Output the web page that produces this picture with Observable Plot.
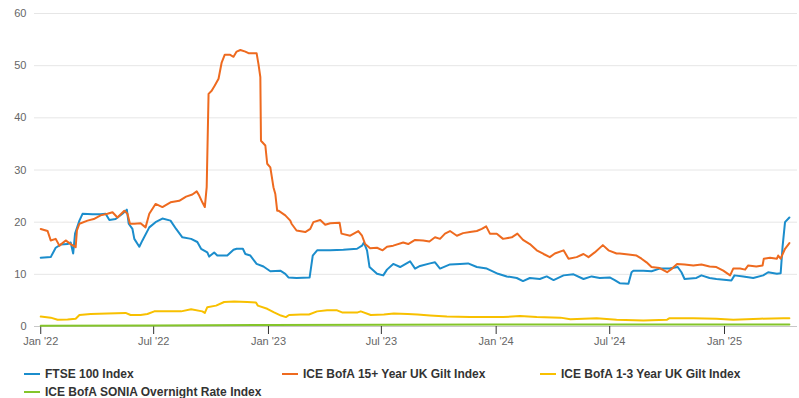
<!DOCTYPE html>
<html><head><meta charset="utf-8">
<script src="https://cdn.jsdelivr.net/npm/d3@7"></script>
<script src="https://cdn.jsdelivr.net/npm/@observablehq/plot@0.6"></script>
<style>
body{margin:0;background:#fff;font-family:"Liberation Sans",Arial,sans-serif;}
#legend{position:relative;height:43px;width:799px;}
.item{position:absolute;display:flex;align-items:center;font-size:12px;font-weight:bold;color:#333;line-height:14px;white-space:nowrap;}
.sw{width:16px;height:2px;margin-right:5px;}
</style></head><body><div id="chart"></div><div id="legend"></div>
<script>
const seriesNames = ["FTSE 100 Index","ICE BofA 15+ Year UK Gilt Index","ICE BofA 1-3 Year UK Gilt Index","ICE BofA SONIA Overnight Rate Index"];
const seriesColors = ["#1b8dcc","#ee6a1f","#f8c000","#84c52a"];
const yTicks = [0,10,20,30,40,50,60];
const xTickDates = ["2022-01-01","2022-07-01","2023-01-01","2023-07-01","2024-01-01","2024-07-01","2025-01-01"];

const ftse = [["2022-01-01",13.2],["2022-01-17",13.3],["2022-01-25",15.1],["2022-02-02",15.7],["2022-02-13",15.8],["2022-02-18",16.1],["2022-02-22",14.0],["2022-02-25",17.8],["2022-03-04",20.3],["2022-03-09",21.6],["2022-03-25",21.5],["2022-04-07",21.5],["2022-04-15",21.6],["2022-04-21",20.4],["2022-05-01",20.6],["2022-05-12",21.6],["2022-05-19",22.4],["2022-05-22",19.7],["2022-05-28",18.7],["2022-05-31",16.8],["2022-06-08",15.3],["2022-06-13",16.5],["2022-06-24",19.0],["2022-07-04",20.0],["2022-07-15",20.7],["2022-07-28",20.3],["2022-08-06",18.7],["2022-08-16",17.1],["2022-08-30",16.8],["2022-09-09",16.2],["2022-09-15",14.9],["2022-09-25",14.2],["2022-09-28",13.4],["2022-10-06",14.2],["2022-10-11",13.6],["2022-10-27",13.6],["2022-11-06",14.7],["2022-11-11",14.9],["2022-11-21",14.9],["2022-11-25",13.9],["2022-12-03",13.6],["2022-12-13",12.0],["2022-12-24",11.5],["2023-01-04",10.6],["2023-01-20",10.7],["2023-01-28",10.1],["2023-02-02",9.4],["2023-02-15",9.3],["2023-03-08",9.4],["2023-03-13",13.6],["2023-03-20",14.6],["2023-04-10",14.6],["2023-05-01",14.7],["2023-05-23",14.9],["2023-05-31",15.5],["2023-06-03",16.1],["2023-06-08",14.6],["2023-06-12",11.4],["2023-06-24",10.1],["2023-07-04",9.8],["2023-07-10",10.9],["2023-07-20",12.0],["2023-07-31",11.4],["2023-08-16",12.5],["2023-08-24",11.1],["2023-09-01",11.6],["2023-09-17",12.1],["2023-09-25",12.3],["2023-10-03",11.1],["2023-10-19",11.9],["2023-11-04",12.0],["2023-11-17",12.1],["2023-12-01",11.4],["2023-12-17",11.1],["2024-01-04",10.1],["2024-01-18",9.6],["2024-02-03",9.3],["2024-02-13",8.7],["2024-02-24",9.3],["2024-03-11",9.1],["2024-03-22",9.6],["2024-04-02",8.9],["2024-04-18",9.8],["2024-05-04",10.0],["2024-05-20",9.1],["2024-06-02",9.6],["2024-06-15",9.3],["2024-07-01",9.4],["2024-07-09",8.9],["2024-07-17",8.3],["2024-07-31",8.2],["2024-08-05",10.4],["2024-08-08",10.7],["2024-08-24",10.7],["2024-09-06",10.6],["2024-09-19",11.1],["2024-10-05",11.1],["2024-10-18",11.4],["2024-10-24",10.4],["2024-10-29",9.1],["2024-11-17",9.3],["2024-11-25",9.8],["2024-12-08",9.3],["2024-12-19",9.1],["2025-01-12",8.8],["2025-01-17",9.8],["2025-01-31",9.6],["2025-02-16",9.3],["2025-03-04",9.8],["2025-03-12",10.4],["2025-03-26",10.1],["2025-04-01",10.2],["2025-04-04",15.2],["2025-04-08",20.0],["2025-04-15",20.9]];

const gilt15 = [["2022-01-01",18.7],["2022-01-12",18.3],["2022-01-17",16.5],["2022-01-25",16.8],["2022-01-31",15.5],["2022-02-10",16.5],["2022-02-18",15.8],["2022-02-26",15.2],["2022-02-28",18.4],["2022-03-04",19.7],["2022-03-17",20.3],["2022-03-27",20.6],["2022-04-07",21.3],["2022-04-18",21.6],["2022-04-26",21.9],["2022-05-04",20.9],["2022-05-15",22.2],["2022-05-20",21.6],["2022-05-24",19.7],["2022-05-31",19.7],["2022-06-10",19.8],["2022-06-18",19.0],["2022-06-24",21.6],["2022-07-04",23.5],["2022-07-15",22.9],["2022-07-28",23.8],["2022-08-11",24.1],["2022-08-22",24.9],["2022-09-01",25.3],["2022-09-08",25.9],["2022-09-12",25.1],["2022-09-17",23.8],["2022-09-21",22.9],["2022-09-24",26.7],["2022-09-27",44.6],["2022-10-02",45.2],["2022-10-07",46.2],["2022-10-13",47.5],["2022-10-18",50.6],["2022-10-23",52.1],["2022-10-31",52.1],["2022-11-06",51.7],["2022-11-11",52.7],["2022-11-17",53.0],["2022-11-25",52.7],["2022-11-30",52.4],["2022-12-13",52.4],["2022-12-16",50.3],["2022-12-19",47.8],["2022-12-20",35.6],["2022-12-27",34.7],["2022-12-30",31.2],["2023-01-04",30.5],["2023-01-09",26.7],["2023-01-12",25.4],["2023-01-15",22.2],["2023-01-17",22.2],["2023-01-28",21.3],["2023-02-05",20.3],["2023-02-07",19.7],["2023-02-15",18.4],["2023-03-01",18.1],["2023-03-09",18.7],["2023-03-14",20.0],["2023-03-25",20.4],["2023-04-02",19.5],["2023-04-10",19.8],["2023-04-25",19.9],["2023-04-28",17.8],["2023-05-12",17.4],["2023-05-25",18.3],["2023-05-31",17.4],["2023-06-05",15.8],["2023-06-13",15.0],["2023-06-24",15.1],["2023-07-03",14.6],["2023-07-10",15.3],["2023-07-20",15.5],["2023-08-05",16.1],["2023-08-13",15.8],["2023-08-24",16.6],["2023-09-06",16.5],["2023-09-16",16.3],["2023-09-25",17.1],["2023-10-03",16.8],["2023-10-11",17.8],["2023-10-19",18.3],["2023-10-30",17.4],["2023-11-09",17.9],["2023-11-20",18.1],["2023-12-01",18.3],["2023-12-09",18.7],["2023-12-16",19.2],["2023-12-22",17.8],["2024-01-02",17.8],["2024-01-12",16.8],["2024-01-26",17.1],["2024-02-04",17.8],["2024-02-13",16.6],["2024-02-24",15.8],["2024-03-06",14.6],["2024-03-17",13.9],["2024-03-27",13.3],["2024-04-04",14.0],["2024-04-18",14.6],["2024-04-26",13.0],["2024-05-09",13.3],["2024-05-20",13.9],["2024-05-28",13.3],["2024-06-07",14.2],["2024-06-20",15.6],["2024-06-29",14.6],["2024-07-12",14.0],["2024-07-17",14.0],["2024-07-31",13.8],["2024-08-13",13.6],["2024-08-21",13.0],["2024-08-29",12.3],["2024-09-06",11.4],["2024-09-19",11.2],["2024-10-01",10.4],["2024-10-09",11.1],["2024-10-17",12.0],["2024-10-29",11.9],["2024-11-12",11.7],["2024-11-25",11.9],["2024-12-08",11.5],["2024-12-19",11.4],["2024-12-30",10.7],["2025-01-10",9.8],["2025-01-15",11.1],["2025-01-26",11.1],["2025-02-03",10.9],["2025-02-08",11.7],["2025-02-21",11.5],["2025-03-03",11.7],["2025-03-05",13.0],["2025-03-15",13.2],["2025-03-26",13.0],["2025-03-28",13.6],["2025-04-01",13.0],["2025-04-08",14.9],["2025-04-15",16.0]];

const gilt13 = [["2022-01-01",1.9],["2022-01-17",1.7],["2022-01-28",1.3],["2022-02-13",1.35],["2022-02-26",1.5],["2022-03-04",2.2],["2022-03-22",2.4],["2022-04-18",2.5],["2022-05-17",2.6],["2022-05-25",2.2],["2022-06-10",2.2],["2022-06-21",2.4],["2022-07-02",2.9],["2022-07-23",2.9],["2022-08-14",2.9],["2022-08-30",3.3],["2022-09-17",2.9],["2022-09-21",2.6],["2022-09-25",3.7],["2022-10-09",4.0],["2022-10-22",4.7],["2022-11-07",4.8],["2022-11-28",4.7],["2022-12-12",4.6],["2022-12-15",4.0],["2022-12-30",3.4],["2023-01-10",2.7],["2023-01-21",2.1],["2023-01-29",1.8],["2023-02-03",2.2],["2023-02-22",2.3],["2023-03-07",2.3],["2023-03-20",2.9],["2023-04-05",3.1],["2023-04-21",3.1],["2023-04-29",2.7],["2023-05-24",2.7],["2023-05-29",2.9],["2023-06-14",2.2],["2023-07-05",2.3],["2023-07-21",2.5],["2023-08-12",2.4],["2023-08-28",2.3],["2023-09-17",2.1],["2023-10-14",1.9],["2023-11-20",1.8],["2024-01-12",1.8],["2024-02-08",2.0],["2024-03-06",1.8],["2024-04-13",1.7],["2024-04-29",1.4],["2024-06-10",1.6],["2024-07-12",1.3],["2024-08-24",1.15],["2024-10-01",1.3],["2024-10-05",1.6],["2024-11-12",1.6],["2024-12-19",1.5],["2025-01-15",1.3],["2025-02-27",1.5],["2025-04-05",1.6],["2025-04-15",1.6]];

const sonia = [["2022-01-01",0.15],["2022-07-01",0.2],["2023-01-01",0.3],["2023-07-01",0.35],["2024-01-01",0.4],["2024-07-01",0.4],["2025-01-01",0.4],["2025-04-15",0.4]];

const seriesData = [ftse, gilt15, gilt13, sonia];
const rows = seriesData.flatMap((arr, i) => arr.map(([d, v]) => ({date: new Date(d + "T00:00:00Z"), value: v, series: seriesNames[i]})));

const chart = Plot.plot({
  width: 799,
  height: 355,
  marginLeft: 34,
  marginRight: 2,
  marginTop: 13,
  marginBottom: 29,
  style: {fontFamily: "'Liberation Sans', Arial, sans-serif", fontSize: "11px", color: "#666", background: "#fff"},
  x: {type: "utc", domain: [new Date("2021-12-22T00:00:00Z"), new Date("2025-04-28T00:00:00Z")]},
  y: {domain: [0, 60]},
  color: {domain: seriesNames, range: seriesColors},
  marks: [
    Plot.gridY(yTicks.filter(t => t > 0), {stroke: "#e6e6e6", strokeOpacity: 1}),
    Plot.axisY({ticks: yTicks, tickSize: 0, tickPadding: 8, label: null, fill: "#666"}),
    Plot.ruleY([0], {stroke: "#c8c8c8", strokeWidth: 1}),
    Plot.axisX({ticks: xTickDates.map(d => new Date(d + "T00:00:00Z")), tickSize: 8, tickPadding: 3, label: null, tickFormat: d3.utcFormat("%b '%y"), stroke: "#333", fill: "#666"}),
    Plot.lineY(rows, {x: "date", y: "value", z: "series", stroke: "series", strokeWidth: 2, strokeLinejoin: "round"})
  ]
});
document.getElementById("chart").appendChild(chart);

const legendPos = [[24, 12], [282, 12], [540, 12], [24, 30]];
const legend = document.getElementById("legend");
seriesNames.forEach((name, i) => {
  const it = document.createElement("div");
  it.className = "item";
  it.style.left = legendPos[i][0] + "px";
  it.style.top = legendPos[i][1] + "px";
  const sw = document.createElement("span");
  sw.className = "sw";
  sw.style.background = seriesColors[i];
  const tx = document.createElement("span");
  tx.textContent = name;
  it.appendChild(sw); it.appendChild(tx);
  legend.appendChild(it);
});
</script></body></html>
